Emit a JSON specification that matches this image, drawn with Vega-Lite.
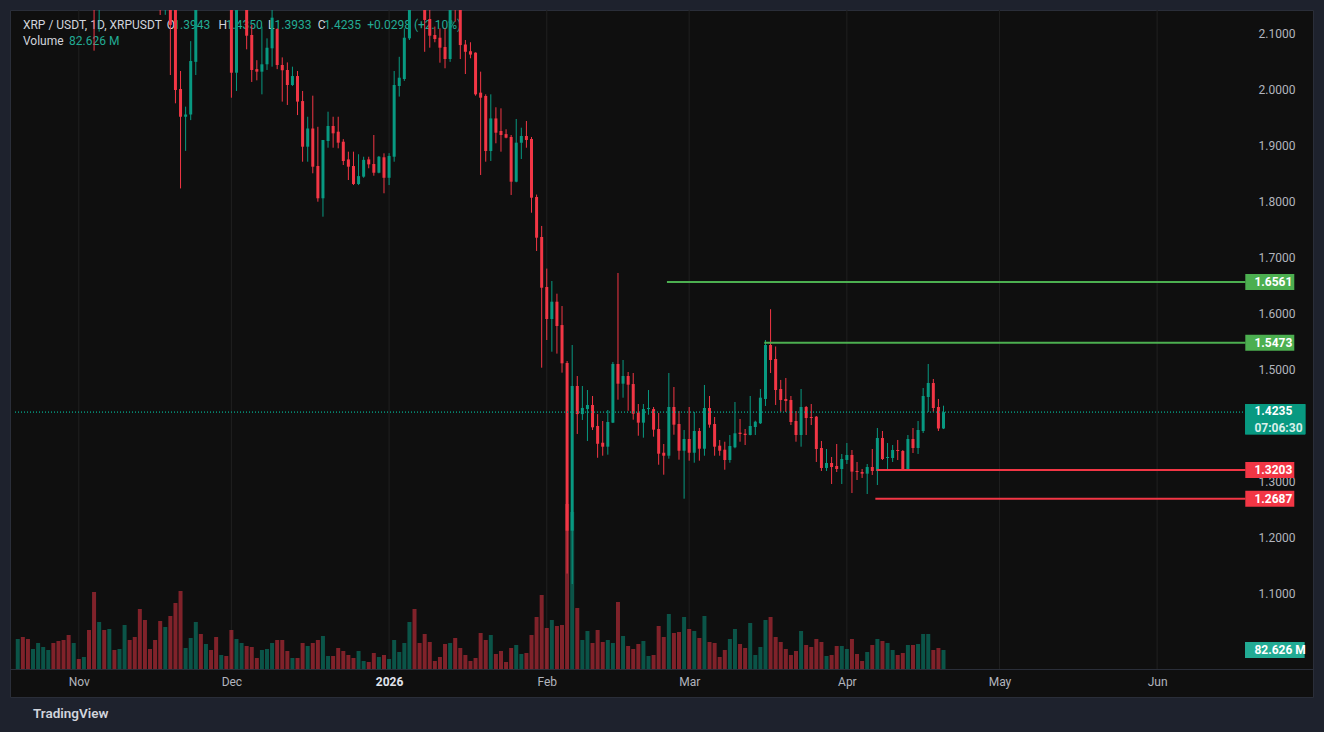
{
"$schema":"https://vega.github.io/schema/vega-lite/v6.json",
"width":1303,"height":687,
"autosize":{"type":"none"},
"padding":{"left":10,"top":10,"right":11,"bottom":35},
"background":"#1e222d",
"config":{"view":{"fill":"#0f0f0f","stroke":"#2a2e39","strokeWidth":1},"font":"Roboto"},
"title":{"text":"TradingView","orient":"bottom","anchor":"start","frame":"group","offset":10,"dx":23,"fontSize":13.5,"fontWeight":600,"color":"#d1d4dc","font":"Roboto"},
"datasets":{
"candles":[
{"t":"2025-10-20","o":2.37,"h":2.52,"l":2.35,"c":2.47,"v":130.5},
{"t":"2025-10-21","o":2.47,"h":2.60,"l":2.37,"c":2.44,"v":139.2},
{"t":"2025-10-22","o":2.44,"h":2.48,"l":2.33,"c":2.38,"v":130.5},
{"t":"2025-10-23","o":2.38,"h":2.45,"l":2.33,"c":2.41,"v":87.0},
{"t":"2025-10-24","o":2.41,"h":2.47,"l":2.39,"c":2.45,"v":113.1},
{"t":"2025-10-25","o":2.45,"h":2.52,"l":2.43,"c":2.50,"v":95.7},
{"t":"2025-10-26","o":2.50,"h":2.65,"l":2.48,"c":2.64,"v":82.7},
{"t":"2025-10-27","o":2.64,"h":2.70,"l":2.60,"c":2.62,"v":113.1},
{"t":"2025-10-28","o":2.62,"h":2.69,"l":2.58,"c":2.60,"v":121.8},
{"t":"2025-10-29","o":2.60,"h":2.66,"l":2.50,"c":2.55,"v":126.2},
{"t":"2025-10-30","o":2.55,"h":2.57,"l":2.40,"c":2.45,"v":147.9},
{"t":"2025-10-31","o":2.45,"h":2.53,"l":2.43,"c":2.51,"v":113.1},
{"t":"2025-11-01","o":2.51,"h":2.52,"l":2.48,"c":2.50,"v":43.5},
{"t":"2025-11-02","o":2.50,"h":2.54,"l":2.45,"c":2.52,"v":52.2},
{"t":"2025-11-03","o":2.52,"h":2.53,"l":2.26,"c":2.29,"v":169.7},
{"t":"2025-11-04","o":2.29,"h":2.32,"l":2.069,"c":2.20,"v":335.0},
{"t":"2025-11-05","o":2.20,"h":2.30,"l":2.103,"c":2.25,"v":204.5},
{"t":"2025-11-06","o":2.25,"h":2.29,"l":2.17,"c":2.20,"v":169.7},
{"t":"2025-11-07","o":2.20,"h":2.33,"l":2.16,"c":2.29,"v":174.0},
{"t":"2025-11-08","o":2.29,"h":2.31,"l":2.22,"c":2.26,"v":82.7},
{"t":"2025-11-09","o":2.26,"h":2.33,"l":2.22,"c":2.31,"v":87.0},
{"t":"2025-11-10","o":2.31,"h":2.55,"l":2.30,"c":2.52,"v":191.4},
{"t":"2025-11-11","o":2.52,"h":2.58,"l":2.39,"c":2.40,"v":126.2},
{"t":"2025-11-12","o":2.40,"h":2.47,"l":2.36,"c":2.38,"v":139.2},
{"t":"2025-11-13","o":2.38,"h":2.47,"l":2.28,"c":2.30,"v":261.0},
{"t":"2025-11-14","o":2.30,"h":2.32,"l":2.18,"c":2.26,"v":213.2},
{"t":"2025-11-15","o":2.26,"h":2.28,"l":2.21,"c":2.23,"v":87.0},
{"t":"2025-11-16","o":2.23,"h":2.27,"l":2.17,"c":2.21,"v":126.2},
{"t":"2025-11-17","o":2.21,"h":2.26,"l":2.1327,"c":2.16,"v":208.8},
{"t":"2025-11-18","o":2.16,"h":2.27,"l":2.133,"c":2.24,"v":182.7},
{"t":"2025-11-19","o":2.24,"h":2.25,"l":2.0255,"c":2.115,"v":230.6},
{"t":"2025-11-20","o":2.16,"h":2.27,"l":1.975,"c":1.9988,"v":287.1},
{"t":"2025-11-21","o":2.0005,"h":2.0327,"l":1.823,"c":1.951,"v":339.3},
{"t":"2025-11-22","o":1.951,"h":1.969,"l":1.890,"c":1.955,"v":91.4},
{"t":"2025-11-23","o":1.955,"h":2.086,"l":1.945,"c":2.0505,"v":134.9},
{"t":"2025-11-24","o":2.049,"h":2.27,"l":2.0255,"c":2.22,"v":204.5},
{"t":"2025-11-25","o":2.22,"h":2.26,"l":2.16,"c":2.19,"v":152.3},
{"t":"2025-11-26","o":2.19,"h":2.24,"l":2.15,"c":2.21,"v":108.8},
{"t":"2025-11-27","o":2.21,"h":2.23,"l":2.17,"c":2.20,"v":82.7},
{"t":"2025-11-28","o":2.20,"h":2.24,"l":2.16,"c":2.18,"v":139.2},
{"t":"2025-11-29","o":2.18,"h":2.21,"l":2.16,"c":2.19,"v":60.9},
{"t":"2025-11-30","o":2.19,"h":2.22,"l":2.16,"c":2.17,"v":56.6},
{"t":"2025-12-01","o":2.17,"h":2.20,"l":1.985,"c":2.0296,"v":169.7},
{"t":"2025-12-02","o":2.0296,"h":2.22,"l":1.997,"c":2.18,"v":130.5},
{"t":"2025-12-03","o":2.18,"h":2.29,"l":2.16,"c":2.21,"v":113.1},
{"t":"2025-12-04","o":2.21,"h":2.23,"l":2.0714,"c":2.0957,"v":100.1},
{"t":"2025-12-05","o":2.097,"h":2.115,"l":2.0131,"c":2.0345,"v":95.7},
{"t":"2025-12-06","o":2.036,"h":2.052,"l":2.016,"c":2.0315,"v":47.9},
{"t":"2025-12-07","o":2.0315,"h":2.112,"l":1.991,"c":2.0446,"v":82.7},
{"t":"2025-12-08","o":2.0446,"h":2.091,"l":2.0345,"c":2.0743,"v":87.0},
{"t":"2025-12-09","o":2.0732,"h":2.145,"l":2.0404,"c":2.1279,"v":113.1},
{"t":"2025-12-10","o":2.1077,"h":2.109,"l":2.036,"c":2.0434,"v":126.2},
{"t":"2025-12-11","o":2.0434,"h":2.057,"l":1.978,"c":2.034,"v":126.2},
{"t":"2025-12-12","o":2.0345,"h":2.048,"l":1.972,"c":2.0077,"v":78.3},
{"t":"2025-12-13","o":2.0077,"h":2.0404,"l":2.006,"c":2.0237,"v":47.9},
{"t":"2025-12-14","o":2.0237,"h":2.0327,"l":1.954,"c":1.978,"v":47.9},
{"t":"2025-12-15","o":1.979,"h":1.997,"l":1.8707,"c":1.8975,"v":113.1},
{"t":"2025-12-16","o":1.8975,"h":1.951,"l":1.8707,"c":1.930,"v":100.1},
{"t":"2025-12-17","o":1.930,"h":1.9886,"l":1.85,"c":1.8618,"v":113.1},
{"t":"2025-12-18","o":1.863,"h":1.933,"l":1.7993,"c":1.8054,"v":126.2},
{"t":"2025-12-19","o":1.8054,"h":1.9095,"l":1.7725,"c":1.9095,"v":143.6},
{"t":"2025-12-20","o":1.9077,"h":1.96,"l":1.8957,"c":1.9345,"v":56.6},
{"t":"2025-12-21","o":1.9345,"h":1.951,"l":1.8957,"c":1.9214,"v":56.6},
{"t":"2025-12-22","o":1.9243,"h":1.951,"l":1.8946,"c":1.9047,"v":91.4},
{"t":"2025-12-23","o":1.9064,"h":1.911,"l":1.8648,"c":1.872,"v":78.3},
{"t":"2025-12-24","o":1.8748,"h":1.8886,"l":1.838,"c":1.8618,"v":60.9},
{"t":"2025-12-25","o":1.863,"h":1.8886,"l":1.829,"c":1.8309,"v":47.9},
{"t":"2025-12-26","o":1.8309,"h":1.884,"l":1.829,"c":1.845,"v":78.3},
{"t":"2025-12-27","o":1.844,"h":1.8796,"l":1.842,"c":1.874,"v":34.8},
{"t":"2025-12-28","o":1.8748,"h":1.8796,"l":1.859,"c":1.866,"v":30.5},
{"t":"2025-12-29","o":1.8666,"h":1.9184,"l":1.8457,"c":1.851,"v":69.6},
{"t":"2025-12-30","o":1.851,"h":1.881,"l":1.85,"c":1.8796,"v":52.2},
{"t":"2025-12-31","o":1.8786,"h":1.8857,"l":1.8143,"c":1.842,"v":60.9},
{"t":"2026-01-01","o":1.842,"h":1.886,"l":1.829,"c":1.881,"v":43.5},
{"t":"2026-01-02","o":1.8796,"h":2.0327,"l":1.8707,"c":2.0077,"v":126.2},
{"t":"2026-01-03","o":2.0059,"h":2.058,"l":1.987,"c":2.0207,"v":74.0},
{"t":"2026-01-04","o":2.0184,"h":2.109,"l":2.015,"c":2.0921,"v":113.1},
{"t":"2026-01-05","o":2.091,"h":2.38,"l":2.088,"c":2.36,"v":204.5},
{"t":"2026-01-06","o":2.36,"h":2.41,"l":2.24,"c":2.26,"v":261.0},
{"t":"2026-01-07","o":2.26,"h":2.28,"l":2.15,"c":2.17,"v":113.1},
{"t":"2026-01-08","o":2.17,"h":2.20,"l":2.067,"c":2.1238,"v":152.3},
{"t":"2026-01-09","o":2.1255,"h":2.16,"l":2.0743,"c":2.0957,"v":117.5},
{"t":"2026-01-10","o":2.097,"h":2.112,"l":2.084,"c":2.0898,"v":34.8},
{"t":"2026-01-11","o":2.0921,"h":2.109,"l":2.0475,"c":2.0743,"v":52.2},
{"t":"2026-01-12","o":2.0755,"h":2.109,"l":2.0375,"c":2.0541,"v":108.8},
{"t":"2026-01-13","o":2.0541,"h":2.20,"l":2.049,"c":2.17,"v":113.1},
{"t":"2026-01-14","o":2.17,"h":2.19,"l":2.1207,"c":2.15,"v":134.9},
{"t":"2026-01-15","o":2.15,"h":2.16,"l":2.054,"c":2.079,"v":91.4},
{"t":"2026-01-16","o":2.080,"h":2.088,"l":2.0273,"c":2.067,"v":60.9},
{"t":"2026-01-17","o":2.068,"h":2.084,"l":2.0554,"c":2.062,"v":34.8},
{"t":"2026-01-18","o":2.0654,"h":2.066,"l":1.9886,"c":1.991,"v":47.9},
{"t":"2026-01-19","o":1.994,"h":2.0315,"l":1.847,"c":1.985,"v":156.6},
{"t":"2026-01-20","o":1.988,"h":1.991,"l":1.8707,"c":1.8898,"v":126.2},
{"t":"2026-01-21","o":1.8898,"h":1.991,"l":1.872,"c":1.948,"v":147.9},
{"t":"2026-01-22","o":1.948,"h":1.9679,"l":1.9036,"c":1.9225,"v":65.3},
{"t":"2026-01-23","o":1.9255,"h":1.966,"l":1.8886,"c":1.9184,"v":78.3},
{"t":"2026-01-24","o":1.920,"h":1.9286,"l":1.9125,"c":1.9136,"v":30.5},
{"t":"2026-01-25","o":1.9148,"h":1.9184,"l":1.8113,"c":1.835,"v":91.4},
{"t":"2026-01-26","o":1.835,"h":1.947,"l":1.834,"c":1.9047,"v":104.4},
{"t":"2026-01-27","o":1.9047,"h":1.9314,"l":1.8755,"c":1.9166,"v":65.3},
{"t":"2026-01-28","o":1.9166,"h":1.9434,"l":1.8957,"c":1.9095,"v":69.6},
{"t":"2026-01-29","o":1.9113,"h":1.9148,"l":1.7796,"c":1.8064,"v":147.9},
{"t":"2026-01-30","o":1.8077,"h":1.812,"l":1.7113,"c":1.735,"v":226.2},
{"t":"2026-01-31","o":1.7363,"h":1.756,"l":1.5029,"c":1.6457,"v":321.9},
{"t":"2026-02-01","o":1.647,"h":1.6798,"l":1.5523,"c":1.5898,"v":178.4},
{"t":"2026-02-02","o":1.5898,"h":1.6577,"l":1.5314,"c":1.6207,"v":213.2},
{"t":"2026-02-03","o":1.6207,"h":1.635,"l":1.528,"c":1.5773,"v":187.1},
{"t":"2026-02-04","o":1.579,"h":1.613,"l":1.494,"c":1.5107,"v":191.4},
{"t":"2026-02-05","o":1.5113,"h":1.5148,"l":1.1352,"c":1.2118,"v":717.8},
{"t":"2026-02-06","o":1.2118,"h":1.5434,"l":1.1166,"c":1.4702,"v":683.0},
{"t":"2026-02-07","o":1.4702,"h":1.488,"l":1.3845,"c":1.420,"v":265.4},
{"t":"2026-02-08","o":1.420,"h":1.4702,"l":1.4095,"c":1.431,"v":126.2},
{"t":"2026-02-09","o":1.429,"h":1.463,"l":1.372,"c":1.4363,"v":165.3},
{"t":"2026-02-10","o":1.4363,"h":1.4523,"l":1.3916,"c":1.3964,"v":113.1},
{"t":"2026-02-11","o":1.3988,"h":1.420,"l":1.342,"c":1.367,"v":169.7},
{"t":"2026-02-12","o":1.3689,"h":1.4077,"l":1.3457,"c":1.3618,"v":117.5},
{"t":"2026-02-13","o":1.3618,"h":1.4273,"l":1.3475,"c":1.4059,"v":126.2},
{"t":"2026-02-14","o":1.4047,"h":1.513,"l":1.404,"c":1.5095,"v":113.1},
{"t":"2026-02-15","o":1.5095,"h":1.672,"l":1.4457,"c":1.4743,"v":291.5},
{"t":"2026-02-16","o":1.4743,"h":1.5166,"l":1.4493,"c":1.488,"v":143.6},
{"t":"2026-02-17","o":1.488,"h":1.4952,"l":1.426,"c":1.4725,"v":100.1},
{"t":"2026-02-18","o":1.4737,"h":1.4934,"l":1.41,"c":1.4207,"v":87.0},
{"t":"2026-02-19","o":1.4225,"h":1.438,"l":1.3814,"c":1.4047,"v":108.8},
{"t":"2026-02-20","o":1.4047,"h":1.438,"l":1.3779,"c":1.429,"v":121.8},
{"t":"2026-02-21","o":1.429,"h":1.463,"l":1.4189,"c":1.431,"v":56.6},
{"t":"2026-02-22","o":1.429,"h":1.4327,"l":1.3797,"c":1.3922,"v":60.9},
{"t":"2026-02-23","o":1.3934,"h":1.422,"l":1.3296,"c":1.3493,"v":187.1},
{"t":"2026-02-24","o":1.351,"h":1.3666,"l":1.3118,"c":1.3457,"v":139.2},
{"t":"2026-02-25","o":1.3457,"h":1.4934,"l":1.3404,"c":1.4327,"v":239.3},
{"t":"2026-02-26","o":1.4327,"h":1.4684,"l":1.3832,"c":1.4011,"v":156.6},
{"t":"2026-02-27","o":1.4023,"h":1.4255,"l":1.3386,"c":1.3546,"v":161.0},
{"t":"2026-02-28","o":1.3546,"h":1.3916,"l":1.2689,"c":1.3755,"v":226.2},
{"t":"2026-03-01","o":1.3755,"h":1.4327,"l":1.3368,"c":1.351,"v":174.0},
{"t":"2026-03-02","o":1.351,"h":1.4238,"l":1.3332,"c":1.3898,"v":165.3},
{"t":"2026-03-03","o":1.3898,"h":1.3952,"l":1.3368,"c":1.3582,"v":134.9},
{"t":"2026-03-04","o":1.3582,"h":1.472,"l":1.3457,"c":1.4309,"v":230.6},
{"t":"2026-03-05","o":1.4309,"h":1.4523,"l":1.3957,"c":1.4011,"v":117.5},
{"t":"2026-03-06","o":1.4023,"h":1.4148,"l":1.3457,"c":1.3618,"v":113.1},
{"t":"2026-03-07","o":1.3636,"h":1.3738,"l":1.3457,"c":1.3546,"v":52.2},
{"t":"2026-03-08","o":1.3564,"h":1.3707,"l":1.3207,"c":1.338,"v":82.7},
{"t":"2026-03-09","o":1.338,"h":1.3827,"l":1.3332,"c":1.363,"v":130.5},
{"t":"2026-03-10","o":1.3607,"h":1.4416,"l":1.359,"c":1.3857,"v":174.0},
{"t":"2026-03-11","o":1.3868,"h":1.4113,"l":1.3707,"c":1.3845,"v":108.8},
{"t":"2026-03-12","o":1.385,"h":1.3934,"l":1.3648,"c":1.3827,"v":91.4},
{"t":"2026-03-13","o":1.3827,"h":1.4523,"l":1.382,"c":1.3988,"v":200.1},
{"t":"2026-03-14","o":1.397,"h":1.4082,"l":1.3827,"c":1.4064,"v":60.9},
{"t":"2026-03-15","o":1.4036,"h":1.4648,"l":1.4023,"c":1.4493,"v":95.7},
{"t":"2026-03-16","o":1.447,"h":1.5523,"l":1.4345,"c":1.5434,"v":213.2},
{"t":"2026-03-17","o":1.5434,"h":1.6073,"l":1.4934,"c":1.5166,"v":226.2},
{"t":"2026-03-18","o":1.5184,"h":1.5407,"l":1.4363,"c":1.463,"v":139.2},
{"t":"2026-03-19","o":1.4648,"h":1.481,"l":1.4238,"c":1.4452,"v":117.5},
{"t":"2026-03-20","o":1.447,"h":1.4845,"l":1.4238,"c":1.4434,"v":87.0},
{"t":"2026-03-21","o":1.4452,"h":1.4523,"l":1.4005,"c":1.4059,"v":60.9},
{"t":"2026-03-22","o":1.4077,"h":1.4255,"l":1.3707,"c":1.3827,"v":78.3},
{"t":"2026-03-23","o":1.3827,"h":1.4648,"l":1.3618,"c":1.4327,"v":165.3},
{"t":"2026-03-24","o":1.4327,"h":1.4345,"l":1.3827,"c":1.413,"v":104.4},
{"t":"2026-03-25","o":1.4148,"h":1.438,"l":1.4005,"c":1.413,"v":95.7},
{"t":"2026-03-26","o":1.4154,"h":1.4166,"l":1.3345,"c":1.3577,"v":130.5},
{"t":"2026-03-27","o":1.3595,"h":1.372,"l":1.3184,"c":1.3238,"v":117.5},
{"t":"2026-03-28","o":1.3238,"h":1.3577,"l":1.3184,"c":1.3327,"v":56.6},
{"t":"2026-03-29","o":1.3327,"h":1.3434,"l":1.2952,"c":1.3255,"v":60.9},
{"t":"2026-03-30","o":1.3273,"h":1.3666,"l":1.3166,"c":1.322,"v":100.1},
{"t":"2026-03-31","o":1.322,"h":1.3488,"l":1.2952,"c":1.3398,"v":100.1},
{"t":"2026-04-01","o":1.338,"h":1.3684,"l":1.3309,"c":1.347,"v":87.0},
{"t":"2026-04-02","o":1.347,"h":1.3559,"l":1.2791,"c":1.3173,"v":130.5},
{"t":"2026-04-03","o":1.3184,"h":1.3345,"l":1.3023,"c":1.3166,"v":65.3},
{"t":"2026-04-04","o":1.3166,"h":1.322,"l":1.306,"c":1.3136,"v":34.8},
{"t":"2026-04-05","o":1.3136,"h":1.3309,"l":1.2773,"c":1.3255,"v":74.0},
{"t":"2026-04-06","o":1.3255,"h":1.3577,"l":1.3113,"c":1.3184,"v":104.4},
{"t":"2026-04-07","o":1.3184,"h":1.3952,"l":1.2934,"c":1.3773,"v":130.5},
{"t":"2026-04-08","o":1.3773,"h":1.3898,"l":1.338,"c":1.3398,"v":121.8},
{"t":"2026-04-09","o":1.3416,"h":1.3684,"l":1.3202,"c":1.3434,"v":113.1},
{"t":"2026-04-10","o":1.3416,"h":1.3648,"l":1.3345,"c":1.3559,"v":82.7},
{"t":"2026-04-11","o":1.3559,"h":1.3738,"l":1.338,"c":1.3541,"v":60.9},
{"t":"2026-04-12","o":1.3541,"h":1.3559,"l":1.3184,"c":1.3202,"v":69.6},
{"t":"2026-04-13","o":1.3202,"h":1.3827,"l":1.3184,"c":1.3755,"v":104.4},
{"t":"2026-04-14","o":1.3755,"h":1.3952,"l":1.3505,"c":1.3595,"v":104.4},
{"t":"2026-04-15","o":1.3595,"h":1.4077,"l":1.3488,"c":1.3916,"v":108.8},
{"t":"2026-04-16","o":1.3898,"h":1.4666,"l":1.3863,"c":1.4523,"v":152.3},
{"t":"2026-04-17","o":1.4505,"h":1.5095,"l":1.4238,"c":1.4755,"v":152.3},
{"t":"2026-04-18","o":1.4755,"h":1.4827,"l":1.4238,"c":1.4309,"v":82.7},
{"t":"2026-04-19","o":1.4327,"h":1.447,"l":1.3898,"c":1.3943,"v":91.4},
{"t":"2026-04-20","o":1.3943,"h":1.435,"l":1.3933,"c":1.4235,"v":82.626}
],
"levels":[
{"t":"2026-02-24T15:00:00Z","p":1.6561,"k":"up"},
{"t":"2026-03-15T18:00:00Z","p":1.5473,"k":"up"},
{"t":"2026-04-06T20:24:00Z","p":1.3203,"k":"dn"},
{"t":"2026-04-06T14:24:00Z","p":1.2687,"k":"dn"}
],
"hgrid":[{"p":1.0},{"p":1.1},{"p":1.2},{"p":1.3},{"p":1.4},{"p":1.5},{"p":1.6},{"p":1.7},{"p":1.8},{"p":1.9},{"p":2.0},{"p":2.1}],
"months":[{"t":"2025-11-01"},{"t":"2025-12-01"},{"t":"2026-01-01"},{"t":"2026-02-01"},{"t":"2026-03-01"},{"t":"2026-04-01"},{"t":"2026-05-01"},{"t":"2026-06-01"}]
},
"encoding":{
"x":{"field":"t","type":"temporal",
"scale":{"type":"utc","domain":[{"year":2025,"month":10,"date":19,"hours":10,"minutes":57,"utc":true},{"year":2026,"month":6,"date":30,"hours":15,"minutes":50,"utc":true}]},
"axis":{"orient":"bottom","offset":-28,"title":null,"grid":false,"ticks":false,"tickSize":0,"domain":true,"domainColor":"#2a2e39","domainWidth":1,
"values":[{"year":2025,"month":11,"date":1,"utc":true},{"year":2025,"month":12,"date":1,"utc":true},{"year":2026,"month":1,"date":1,"utc":true},{"year":2026,"month":2,"date":1,"utc":true},{"year":2026,"month":3,"date":1,"utc":true},{"year":2026,"month":4,"date":1,"utc":true},{"year":2026,"month":5,"date":1,"utc":true},{"year":2026,"month":6,"date":1,"utc":true}],
"labelExpr":"utcmonth(datum.value)==0 ? utcFormat(datum.value,'%Y') : utcFormat(datum.value,'%b')",
"labelFont":"Roboto","labelFontSize":12,"labelPadding":7,"labelFlush":false,"labelOverlap":false,
"labelColor":{"condition":{"test":"utcmonth(datum.value)==0","value":"#e0e3eb"},"value":"#b2b5be"},
"labelFontWeight":{"condition":{"test":"utcmonth(datum.value)==0","value":"bold"},"value":"normal"}}}
},
"layer":[
{"data":{"name":"hgrid"},"mark":{"type":"rule","color":"#202020","strokeWidth":1},
"encoding":{"x":{"datum":{"year":2025,"month":10,"date":19,"hours":10,"minutes":57,"utc":true}},"x2":{"datum":{"year":2026,"month":6,"date":18,"hours":8,"minutes":53,"utc":true}},
"y":{"field":"p","type":"quantitative","scale":{"domain":[0.91482,2.14161],"nice":false,"zero":false},"axis":null}}},
{"data":{"name":"months"},"mark":{"type":"rule","color":"#202020","strokeWidth":1},
"encoding":{"y":{"datum":0.96482,"scale":{"domain":[0.91482,2.14161],"nice":false,"zero":false},"axis":null},"y2":{"datum":2.14161}}},
{"data":{"name":"candles"},"mark":{"type":"bar","width":4,"opacity":0.5},
"encoding":{"y":{"field":"v","type":"quantitative","scale":{"domain":[-121.8,2866.65],"nice":false,"zero":false},"axis":null},"y2":{"datum":0},
"color":{"condition":{"test":"datum.c >= datum.o","value":"#089981"},"value":"#f23645"}}},
{"data":{"name":"levels"},"mark":{"type":"text","align":"left","baseline":"middle","fontSize":12,"font":"Roboto","color":"#d1d4dc"},
"encoding":{"x":{"datum":{"year":2025,"month":10,"date":21,"hours":0,"minutes":23,"utc":true}},"y":{"datum":2.1148,"scale":{"domain":[0.91482,2.14161],"nice":false,"zero":false},"axis":null},"text":{"condition":{"test":"datum.p > 1.6","value":"XRP / USDT, 1D, XRPUSDT"},"value":""}}},
{"data":{"name":"levels"},"mark":{"type":"text","align":"left","baseline":"middle","fontSize":12,"font":"Roboto","color":"#d1d4dc"},
"encoding":{"x":{"datum":{"year":2025,"month":11,"date":18,"hours":7,"minutes":19,"utc":true}},"y":{"datum":2.1148,"scale":{"domain":[0.91482,2.14161],"nice":false,"zero":false},"axis":null},"text":{"condition":{"test":"datum.p > 1.6","value":"O"},"value":""}}},
{"data":{"name":"levels"},"mark":{"type":"text","align":"left","baseline":"middle","fontSize":12,"font":"Roboto","color":"#22ab94"},
"encoding":{"x":{"datum":{"year":2025,"month":11,"date":19,"hours":13,"minutes":45,"utc":true}},"y":{"datum":2.1148,"scale":{"domain":[0.91482,2.14161],"nice":false,"zero":false},"axis":null},"text":{"condition":{"test":"datum.p > 1.6","value":"1.3943"},"value":""}}},
{"data":{"name":"levels"},"mark":{"type":"text","align":"left","baseline":"middle","fontSize":12,"font":"Roboto","color":"#d1d4dc"},
"encoding":{"x":{"datum":{"year":2025,"month":11,"date":28,"hours":10,"minutes":48,"utc":true}},"y":{"datum":2.1148,"scale":{"domain":[0.91482,2.14161],"nice":false,"zero":false},"axis":null},"text":{"condition":{"test":"datum.p > 1.6","value":"H"},"value":""}}},
{"data":{"name":"levels"},"mark":{"type":"text","align":"left","baseline":"middle","fontSize":12,"font":"Roboto","color":"#22ab94"},
"encoding":{"x":{"datum":{"year":2025,"month":11,"date":29,"hours":21,"minutes":55,"utc":true}},"y":{"datum":2.1148,"scale":{"domain":[0.91482,2.14161],"nice":false,"zero":false},"axis":null},"text":{"condition":{"test":"datum.p > 1.6","value":"1.4350"},"value":""}}},
{"data":{"name":"levels"},"mark":{"type":"text","align":"left","baseline":"middle","fontSize":12,"font":"Roboto","color":"#d1d4dc"},
"encoding":{"x":{"datum":{"year":2025,"month":12,"date":8,"hours":4,"minutes":54,"utc":true}},"y":{"datum":2.1148,"scale":{"domain":[0.91482,2.14161],"nice":false,"zero":false},"axis":null},"text":{"condition":{"test":"datum.p > 1.6","value":"L"},"value":""}}},
{"data":{"name":"levels"},"mark":{"type":"text","align":"left","baseline":"middle","fontSize":12,"font":"Roboto","color":"#22ab94"},
"encoding":{"x":{"datum":{"year":2025,"month":12,"date":9,"hours":11,"minutes":20,"utc":true}},"y":{"datum":2.1148,"scale":{"domain":[0.91482,2.14161],"nice":false,"zero":false},"axis":null},"text":{"condition":{"test":"datum.p > 1.6","value":"1.3933"},"value":""}}},
{"data":{"name":"levels"},"mark":{"type":"text","align":"left","baseline":"middle","fontSize":12,"font":"Roboto","color":"#d1d4dc"},
"encoding":{"x":{"datum":{"year":2025,"month":12,"date":17,"hours":23,"minutes":1,"utc":true}},"y":{"datum":2.1148,"scale":{"domain":[0.91482,2.14161],"nice":false,"zero":false},"axis":null},"text":{"condition":{"test":"datum.p > 1.6","value":"C"},"value":""}}},
{"data":{"name":"levels"},"mark":{"type":"text","align":"left","baseline":"middle","fontSize":12,"font":"Roboto","color":"#22ab94"},
"encoding":{"x":{"datum":{"year":2025,"month":12,"date":19,"hours":5,"minutes":27,"utc":true}},"y":{"datum":2.1148,"scale":{"domain":[0.91482,2.14161],"nice":false,"zero":false},"axis":null},"text":{"condition":{"test":"datum.p > 1.6","value":"1.4235"},"value":""}}},
{"data":{"name":"levels"},"mark":{"type":"text","align":"left","baseline":"middle","fontSize":12,"font":"Roboto","color":"#22ab94"},
"encoding":{"x":{"datum":{"year":2025,"month":12,"date":27,"hours":17,"minutes":7,"utc":true}},"y":{"datum":2.1148,"scale":{"domain":[0.91482,2.14161],"nice":false,"zero":false},"axis":null},"text":{"condition":{"test":"datum.p > 1.6","value":"+0.0298 (+2.10%)"},"value":""}}},
{"data":{"name":"levels"},"mark":{"type":"text","align":"left","baseline":"middle","fontSize":12,"font":"Roboto","color":"#d1d4dc"},
"encoding":{"x":{"datum":{"year":2025,"month":10,"date":21,"hours":0,"minutes":23,"utc":true}},"y":{"datum":2.08625,"scale":{"domain":[0.91482,2.14161],"nice":false,"zero":false},"axis":null},"text":{"condition":{"test":"datum.p > 1.6","value":"Volume"},"value":""}}},
{"data":{"name":"levels"},"mark":{"type":"text","align":"left","baseline":"middle","fontSize":12,"font":"Roboto","color":"#22ab94"},
"encoding":{"x":{"datum":{"year":2025,"month":10,"date":30,"hours":2,"minutes":7,"utc":true}},"y":{"datum":2.08625,"scale":{"domain":[0.91482,2.14161],"nice":false,"zero":false},"axis":null},"text":{"condition":{"test":"datum.p > 1.6","value":"82.626 M"},"value":""}}},
{"data":{"name":"candles"},"mark":{"type":"rule","strokeWidth":1,"clip":true},
"encoding":{"y":{"field":"l","type":"quantitative","scale":{"domain":[0.91482,2.14161],"nice":false,"zero":false},
"axis":{"orient":"right","offset":-63,"title":null,"grid":false,"ticks":false,"tickSize":0,"domain":false,"values":[1.1,1.2,1.3,1.4,1.5,1.6,1.7,1.8,1.9,2.0,2.1],"format":".4f","labelPadding":8,"labelColor":"#b2b5be","labelFontSize":12,"labelFont":"Roboto"}},
"y2":{"field":"h"},
"color":{"condition":{"test":"datum.c >= datum.o","value":"#089981"},"value":"#f23645"}}},
{"data":{"name":"candles"},"mark":{"type":"bar","width":3,"clip":true},
"encoding":{"y":{"field":"o","type":"quantitative","scale":{"domain":[0.91482,2.14161],"nice":false,"zero":false},"axis":null},"y2":{"field":"c"},
"color":{"condition":{"test":"datum.c >= datum.o","value":"#089981"},"value":"#f23645"}}},
{"data":{"name":"levels"},"mark":{"type":"rule","strokeWidth":2},
"encoding":{"x2":{"datum":{"year":2026,"month":6,"date":18,"hours":8,"minutes":53,"utc":true}},
"y":{"field":"p","type":"quantitative","scale":{"domain":[0.91482,2.14161],"nice":false,"zero":false},"axis":null},
"color":{"condition":{"test":"datum.k == 'up'","value":"#4caf50"},"value":"#f23645"}}},
{"data":{"name":"levels"},"mark":{"type":"rule","strokeWidth":1,"strokeDash":[1,2],"color":"#089981","opacity":0.6},
"encoding":{"x":{"datum":{"year":2025,"month":10,"date":19,"hours":10,"minutes":57,"utc":true}},"x2":{"datum":{"year":2026,"month":6,"date":18,"hours":8,"minutes":53,"utc":true}},
"y":{"datum":1.4235,"scale":{"domain":[0.91482,2.14161],"nice":false,"zero":false},"axis":null}}},
{"data":{"name":"levels"},"mark":{"type":"point","filled":true,"opacity":1,"strokeWidth":0,"size":2401,"shape":"M-1,-0.3265H1V0.3265H-1Z"},
"encoding":{"x":{"datum":{"year":2026,"month":6,"date":23,"hours":3,"minutes":34,"utc":true}},
"y":{"field":"p","type":"quantitative","scale":{"domain":[0.91482,2.14161],"nice":false,"zero":false},"axis":null},
"color":{"condition":{"test":"datum.k == 'up'","value":"#4caf50"},"value":"#f23645"}}},
{"data":{"name":"levels"},"mark":{"type":"text","align":"left","baseline":"middle","fontSize":12,"fontWeight":"bold","font":"Roboto","color":"#ffffff"},
"encoding":{"x":{"datum":{"year":2026,"month":6,"date":20,"hours":3,"minutes":7,"utc":true}},
"y":{"field":"p","type":"quantitative","scale":{"domain":[0.91482,2.14161],"nice":false,"zero":false},"axis":null},
"text":{"field":"p","type":"quantitative","format":".4f"}}},
{"data":{"name":"levels"},"mark":{"type":"point","filled":true,"opacity":1,"strokeWidth":0,"size":3600,"shape":"M-1,-0.5H1V0.5H-1Z","color":"#089981","yOffset":7},
"encoding":{"x":{"datum":{"year":2026,"month":6,"date":24,"hours":5,"minutes":17,"utc":true}},
"y":{"datum":1.4235,"scale":{"domain":[0.91482,2.14161],"nice":false,"zero":false},"axis":null}}},
{"data":{"name":"levels"},"mark":{"type":"text","align":"left","baseline":"middle","fontSize":12,"fontWeight":"bold","font":"Roboto","color":"#ffffff","dy":-1},
"encoding":{"x":{"datum":{"year":2026,"month":6,"date":20,"hours":3,"minutes":7,"utc":true}},
"y":{"datum":1.4235,"scale":{"domain":[0.91482,2.14161],"nice":false,"zero":false},"axis":null},"text":{"condition":{"test":"datum.p > 1.6","value":"1.4235"},"value":""}}},
{"data":{"name":"levels"},"mark":{"type":"text","align":"left","baseline":"middle","fontSize":12,"fontWeight":"bold","font":"Roboto","color":"#d8f0ea","dy":16},
"encoding":{"x":{"datum":{"year":2026,"month":6,"date":20,"hours":3,"minutes":7,"utc":true}},
"y":{"datum":1.4235,"scale":{"domain":[0.91482,2.14161],"nice":false,"zero":false},"axis":null},"text":{"condition":{"test":"datum.p > 1.6","value":"07:06:30"},"value":""}}},
{"data":{"name":"levels"},"mark":{"type":"point","filled":true,"opacity":1,"strokeWidth":0,"size":3481,"shape":"M-1,-0.2712H1V0.2712H-1Z","color":"#22ab94"},
"encoding":{"x":{"datum":{"year":2026,"month":6,"date":24,"hours":2,"minutes":53,"utc":true}},
"y":{"datum":82.626,"scale":{"domain":[-121.8,2866.65],"nice":false,"zero":false},"axis":null}}},
{"data":{"name":"levels"},"mark":{"type":"text","align":"left","baseline":"middle","fontSize":12,"fontWeight":"bold","font":"Roboto","color":"#ffffff"},
"encoding":{"x":{"datum":{"year":2026,"month":6,"date":20,"hours":3,"minutes":7,"utc":true}},
"y":{"datum":82.626,"scale":{"domain":[-121.8,2866.65],"nice":false,"zero":false},"axis":null},"text":{"condition":{"test":"datum.p > 1.6","value":"82.626 M"},"value":""}}}
],
"resolve":{"scale":{"y":"independent"}}
}
